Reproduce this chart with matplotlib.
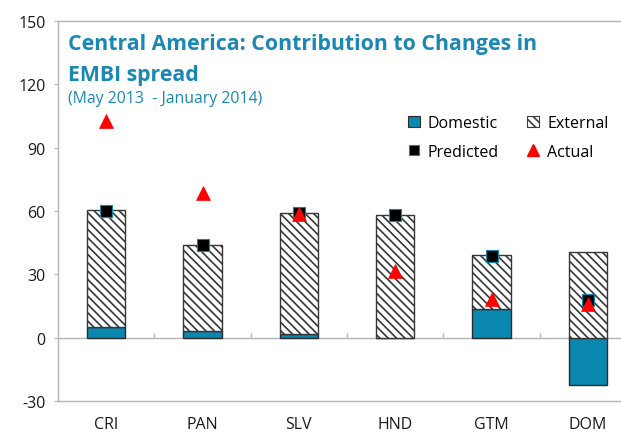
import numpy as np
import matplotlib
matplotlib.use("Agg")
import matplotlib.pyplot as plt
from matplotlib.patches import Patch
from matplotlib.lines import Line2D

categories = ["CRI", "PAN", "SLV", "HND", "GTM", "DOM"]
domestic = [5.2, 3.0, 1.9, 0.0, 13.6, -22.4]
external = [55.3, 41.0, 57.0, 58.1, 25.4, 40.7]
predicted = [60.0, 44.0, 59.0, 58.0, 38.5, 17.8]
actual = [102.8, 68.6, 58.6, 31.7, 18.4, 15.8]
yticks = [-30, 0, 30, 60, 90, 120, 150]

plt.rcParams['font.family'] = ['Open Sans', 'DejaVu Sans']
plt.rcParams['hatch.linewidth'] = 1.2

teal = "#0a88b0"
title_col = "#1a88b4"
grey = "#b4b4b4"

fig = plt.figure(figsize=(6.21, 4.35), dpi=100)
ax = fig.add_axes([58/621, 1-402/435, (636-58)/621, (402-22)/435])

x = np.arange(len(categories))
dom = np.array(domestic)
ext = np.array(external)
bottom_ext = np.maximum(dom, 0)

ax.bar(x, dom, width=0.4, color=teal, edgecolor="#2a2a2a", linewidth=1.0, zorder=2)
ax.bar(x, ext, width=0.4, bottom=bottom_ext, color="white", edgecolor="#363636",
       hatch="\\\\\\\\", linewidth=1.0, zorder=2)
ax.plot(x, predicted, linestyle="none", marker="s", markersize=8,
        markerfacecolor="black", markeredgecolor=teal, markeredgewidth=0.8, zorder=4)
ax.plot(x, actual, linestyle="none", marker="^", markersize=9.5,
        markerfacecolor="#ff0000", markeredgecolor="#ff0000", markeredgewidth=0.5, zorder=5)

ax.axhline(0, color=grey, linewidth=1.0, zorder=1)
ax.vlines(x[:-1] + 0.5, 0, 2.4, color=grey, linewidth=1.0, zorder=1)

ax.set_xlim(-0.5, 5.5)
ax.set_ylim(-30, 150)
ax.set_yticks(yticks)
ax.set_yticklabels([str(v) for v in yticks], fontsize=11.5, color="#1a1a1a")
ax.set_xticks(x)
ax.set_xticklabels(categories, fontsize=11.5, color="#1a1a1a")
ax.tick_params(axis="x", length=0, pad=11)
ax.tick_params(axis="y", length=3, color=grey, pad=6)
for s in ["left", "top", "bottom"]:
    ax.spines[s].set_color(grey)
    ax.spines[s].set_linewidth(1.0)
ax.spines["right"].set_visible(False)

handles = [
    Patch(facecolor=teal, edgecolor="#2a2a2a", linewidth=0.8, label="Domestic"),
    Line2D([], [], linestyle="none", marker="s", markersize=7, markerfacecolor="black",
           markeredgecolor=teal, markeredgewidth=0.8, label="Predicted"),
    Patch(facecolor="white", edgecolor="#3c3c3c", hatch="\\\\\\\\", linewidth=0.8, label="External"),
    Line2D([], [], linestyle="none", marker="^", markersize=8, markerfacecolor="#ff0000",
           markeredgecolor="#ff0000", label="Actual"),
]
fig.legend(handles=handles, ncol=2, frameon=False, fontsize=11.5,
           loc="upper left", bbox_to_anchor=(408/621, 1-116/435),
           handlelength=0.75, handleheight=0.75, handletextpad=0.5,
           columnspacing=1.75, labelspacing=0.8, borderpad=0, borderaxespad=0)

fig.text(68/621, 1-50/435, "Central America: Contribution to Changes in",
         fontsize=15.3, fontweight="bold", color=title_col, va="baseline", ha="left")
fig.text(68/621, 1-81/435, "EMBI spread",
         fontsize=15.3, fontweight="bold", color=title_col, va="baseline", ha="left")
fig.text(68/621, 1-103/435, "(May 2013  - January 2014)",
         fontsize=11.4, color=title_col, va="baseline", ha="left")

fig.savefig("out.png", dpi=100)
